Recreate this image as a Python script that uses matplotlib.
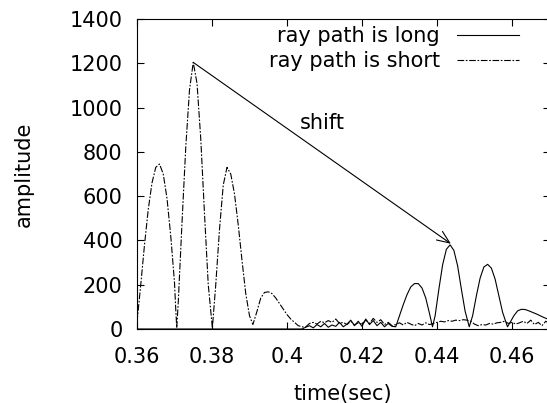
"""
Amplitude vs. time for two ray path lengths, with the peak shift marked
"""
import matplotlib
matplotlib.use('Agg')
import matplotlib.pyplot as plt

plt.rcParams['font.family'] = 'DejaVu Sans'
plt.rcParams['font.size'] = 15

# short ray path: main lobes, then the noise floor
t_short = [0.3600, 0.3610, 0.3620, 0.3630, 0.3640, 0.3650, 0.3660, 0.3670, 0.3680, 0.3690,
           0.3700, 0.3703, 0.3706,
           0.3710, 0.3720, 0.3730, 0.3740, 0.3750, 0.3760, 0.3770, 0.3780, 0.3790, 0.3801,
           0.3810, 0.3820, 0.3830, 0.3840, 0.3850, 0.3860, 0.3870, 0.3880, 0.3890, 0.3900, 0.3909,
           0.3920, 0.3930, 0.3940, 0.3950, 0.3960, 0.3970, 0.3980, 0.3990, 0.4000, 0.4010,
           0.4020, 0.4030, 0.4045,
           0.405, 0.406, 0.407, 0.408, 0.409, 0.410, 0.411, 0.412, 0.413, 0.414,
           0.415, 0.416, 0.417, 0.418, 0.419, 0.420, 0.421, 0.422, 0.423, 0.424,
           0.425, 0.426, 0.427, 0.428, 0.429, 0.430, 0.431, 0.432, 0.433, 0.434,
           0.435, 0.436, 0.437, 0.438, 0.439, 0.440, 0.441, 0.442, 0.443, 0.444,
           0.445, 0.446, 0.447, 0.448, 0.449, 0.450, 0.451, 0.452, 0.453, 0.454,
           0.455, 0.456, 0.457, 0.458, 0.459, 0.460, 0.461, 0.462, 0.463, 0.464,
           0.465, 0.466, 0.467, 0.468, 0.469, 0.470]
a_short = [30, 200, 380, 540, 660, 730, 745, 700, 590, 420,
           210, 100, 5,
           120, 480, 820, 1080, 1204, 1110, 860, 520, 200, 5,
           200, 450, 650, 730, 700, 610, 470, 310, 160, 60, 20,
           80, 140, 165, 168, 160, 140, 115, 90, 65, 45,
           30, 15, 8,
           10, 25, 30, 22, 35, 28, 38, 30, 45, 25,
           30, 20, 35, 18, 28, 22, 40, 25, 48, 30,
           42, 20, 30, 15, 20, 28, 18, 30, 22, 15,
           25, 18, 28, 20, 25, 30, 35, 32, 38, 35,
           40, 38, 42, 40, 35, 22, 15, 20, 18, 25,
           22, 28, 30, 35, 25, 30, 22, 28, 35, 25,
           40, 20, 30, 15, 35, 25]

# long ray path: flat, noise, then the delayed lobes
t_long = [0.360, 0.404,
          0.405, 0.406, 0.407, 0.408, 0.409, 0.410, 0.411, 0.412, 0.413, 0.414,
          0.415, 0.416, 0.417, 0.418, 0.419, 0.420, 0.421, 0.422, 0.423, 0.424,
          0.425, 0.426, 0.427, 0.428,
          0.4290, 0.4300, 0.4310, 0.4320, 0.4330, 0.4340, 0.4350, 0.4360, 0.4370, 0.4380, 0.4388,
          0.4395, 0.4405, 0.4415, 0.4425, 0.4435, 0.4445, 0.4455, 0.4465, 0.4475, 0.4486,
          0.4495, 0.4505, 0.4515, 0.4525, 0.4535, 0.4545, 0.4555, 0.4565, 0.4575, 0.4588,
          0.4595, 0.4605, 0.4615, 0.4625, 0.4635, 0.4645, 0.4655, 0.4665, 0.4675, 0.4685,
          0.4695, 0.4700]
a_long = [0, 0,
          8, 15, 5, 20, 10, 25, 8, 18, 12, 30,
          10, 22, 40, 15, 35, 12, 45, 20, 38, 15,
          30, 10, 25, 12,
          10, 60, 110, 155, 190, 205, 205, 185, 140, 70, 10,
          60, 180, 290, 360, 380, 355, 285, 180, 80, 10,
          60, 150, 230, 280, 292, 275, 225, 150, 75, 10,
          30, 60, 82, 89, 88, 82, 75, 68, 60, 52,
          45, 50]

# shift arrow: from the short-path main peak to the long-path main peak
shift_from = (0.375, 1204)
shift_to = (0.4437, 385)
shift_label_pos = (0.4095, 930)

x_ticks = [0.36, 0.38, 0.40, 0.42, 0.44, 0.46]
x_ticklabels = ['0.36', '0.38', '0.4', '0.42', '0.44', '0.46']
y_ticks = [0, 200, 400, 600, 800, 1000, 1200, 1400]

fig = plt.figure(figsize=(5.47, 4.03), dpi=100)
ax = fig.add_axes([137 / 547, 74 / 403, 412.5 / 547, 310 / 403])

ax.plot(t_long, a_long, color='black', linewidth=0.8, label='ray path is long')
ax.plot(t_short, a_short, color='black', linewidth=0.8,
        linestyle=(0, (6, 1.5, 1.5, 1.5)), label='ray path is short')

ax.annotate('', xy=shift_to, xytext=shift_from,
            arrowprops=dict(arrowstyle='->,head_length=0.6,head_width=0.25',
                            color='black', lw=0.8, shrinkA=0, shrinkB=0))
ax.text(*shift_label_pos, 'shift', ha='center', va='center')

ax.set_xlim(0.36, 0.47)
ax.set_ylim(0, 1400)
ax.set_xticks(x_ticks)
ax.set_xticklabels(x_ticklabels)
ax.set_yticks(y_ticks)
ax.tick_params(direction='in', length=5, width=0.8, top=True, right=True)
ax.tick_params(axis='x', pad=13)
ax.tick_params(axis='y', pad=10.5)
for s in ax.spines.values():
    s.set_linewidth(0.8)

ax.set_xlabel('time(sec)', labelpad=12)
ax.set_ylabel('amplitude', labelpad=26)

ax.legend(loc='upper right', bbox_to_anchor=(519 / 547, (403 - 26) / 403),
          bbox_transform=fig.transFigure, frameon=False, markerfirst=False,
          handlelength=3.0, handletextpad=0.8, labelspacing=0.25,
          borderpad=0, borderaxespad=0)

plt.savefig('out.png', dpi=100, facecolor='white')
plt.close()
